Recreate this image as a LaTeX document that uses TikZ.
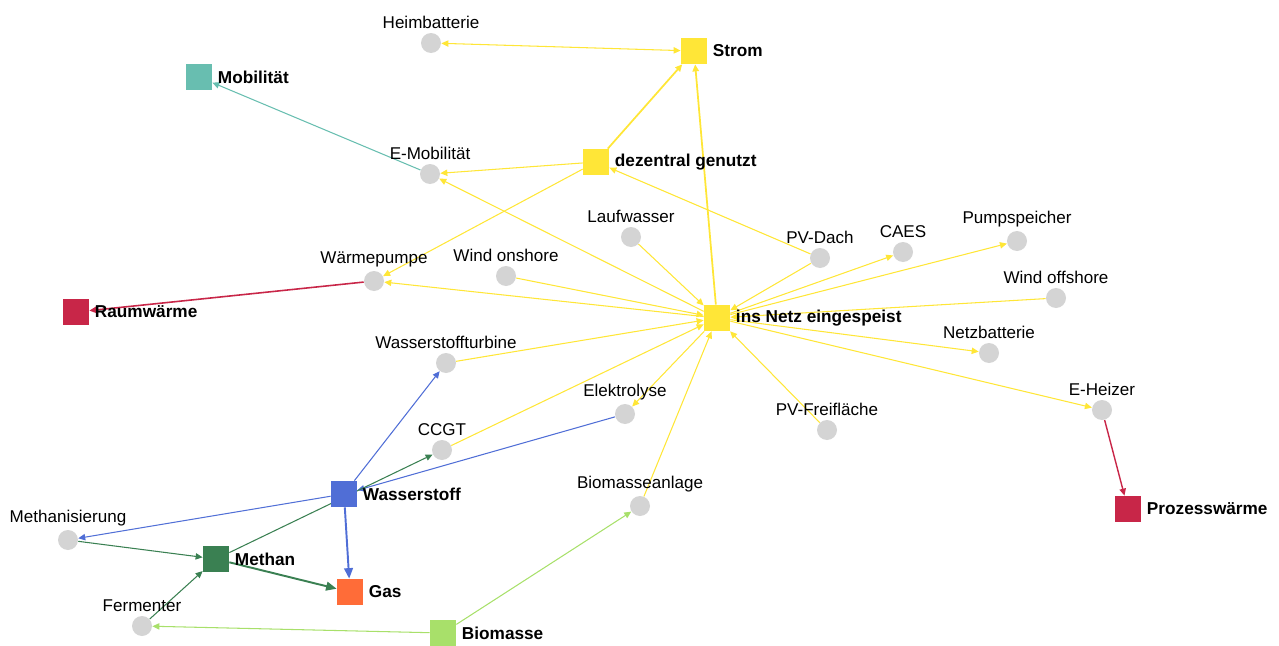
\documentclass[tikz,border=0pt]{standalone}
\usepackage{fontspec}
\setmainfont{Liberation Sans}
\usetikzlibrary{arrows.meta}

\definecolor{ygelb}{RGB}{255,230,55}
\definecolor{tuerkis}{RGB}{104,190,176}
\definecolor{karmin}{RGB}{200,38,72}
\definecolor{h2blau}{RGB}{80,110,214}
\definecolor{ch4gruen}{RGB}{58,128,82}
\definecolor{gasrot}{RGB}{255,108,56}
\definecolor{biogruen}{RGB}{168,224,106}
\definecolor{punkt}{RGB}{212,212,212}

\pgfdeclarelayer{kanten}
\pgfsetlayers{kanten,main}

\begin{document}
\begin{tikzpicture}[x=0.02cm,y=-0.02cm,
    sector/.style={rectangle,minimum size=0.52cm,inner sep=0pt},
    tech/.style={circle,fill=punkt,minimum size=0.4cm,inner sep=0pt},
    techName/.style={above,font=\fontsize{9.7pt}{12pt}\selectfont,inner sep=2pt},
    sectorName/.style={right,font=\fontsize{9.8pt}{12pt}\selectfont\bfseries,inner sep=3pt},
    flow/.style={line width=0.6pt,-{Triangle[length=4pt,width=3.6pt]}},
    mainflow/.style={line width=1.1pt,-{Triangle[length=6pt,width=5pt]}}
    ]
  \useasboundingbox (0,0) rectangle (1279,646);

  % Sektoren
  \node(strom) [sector,fill=ygelb] at (694,51) {};
  \node(stromName) [sectorName] at (strom.east) {Strom};
  \node(mobil) [sector,fill=tuerkis] at (199,77) {};
  \node(mobilName) [sectorName] at (mobil.east) {Mobilität};
  \node(dezentral) [sector,fill=ygelb] at (596,162) {};
  \node(dezentralName) [sectorName] at (dezentral.east) {dezentral genutzt};
  \node(raum) [sector,fill=karmin] at (76,312) {};
  \node(raumName) [sectorName] at (raum.east) {Raumwärme};
  \node(netz) [sector,fill=ygelb] at (717,318) {};
  \node(netzName) [sectorName] at (netz.east) {ins Netz eingespeist};
  \node(wasserstoff) [sector,fill=h2blau] at (344,494) {};
  \node(wasserstoffName) [sectorName] at (wasserstoff.east) {Wasserstoff};
  \node(prozess) [sector,fill=karmin] at (1128,509) {};
  \node(prozessName) [sectorName] at (prozess.east) {Prozesswärme};
  \node(methan) [sector,fill=ch4gruen] at (216,559) {};
  \node(methanName) [sectorName] at (methan.east) {Methan};
  \node(gas) [sector,fill=gasrot] at (350,592) {};
  \node(gasName) [sectorName] at (gas.east) {Gas};
  \node(biomasse) [sector,fill=biogruen] at (443,633) {};
  \node(biomasseName) [sectorName] at (biomasse.east) {Biomasse};

  % Technologien
  \node(heim) [tech] at (431,43) {};
  \node(heimName) [techName] at (heim.north) {Heimbatterie};
  \node(emob) [tech] at (430,174) {};
  \node(emobName) [techName] at (emob.north) {E-Mobilität};
  \node(lauf) [tech] at (631,237) {};
  \node(laufName) [techName] at (lauf.north) {Laufwasser};
  \node(pvdach) [tech] at (820,258) {};
  \node(pvdachName) [techName] at (pvdach.north) {PV-Dach};
  \node(caes) [tech] at (903,252) {};
  \node(caesName) [techName] at (caes.north) {CAES};
  \node(pump) [tech] at (1017,241) {};
  \node(pumpName) [techName] at (pump.north) {Pumpspeicher};
  \node(wp) [tech] at (374,281) {};
  \node(wpName) [techName] at (wp.north) {Wärmepumpe};
  \node(won) [tech] at (506,276) {};
  \node(wonName) [techName] at (won.north) {Wind onshore};
  \node(woff) [tech] at (1056,298) {};
  \node(woffName) [techName] at (woff.north) {Wind offshore};
  \node(nbat) [tech] at (989,353) {};
  \node(nbatName) [techName] at (nbat.north) {Netzbatterie};
  \node(hturb) [tech] at (446,363) {};
  \node(hturbName) [techName] at (hturb.north) {Wasserstoffturbine};
  \node(elyse) [tech] at (625,414) {};
  \node(elyseName) [techName] at (elyse.north) {Elektrolyse};
  \node(eheiz) [tech] at (1102,410) {};
  \node(eheizName) [techName] at (eheiz.north) {E-Heizer};
  \node(pvff) [tech] at (827,430) {};
  \node(pvffName) [techName] at (pvff.north) {PV-Freifläche};
  \node(ccgt) [tech] at (442,450) {};
  \node(ccgtName) [techName] at (ccgt.north) {CCGT};
  \node(bmanl) [tech] at (640,506) {};
  \node(bmanlName) [techName] at (bmanl.north) {Biomasseanlage};
  \node(methanis) [tech] at (68,540) {};
  \node(methanisName) [techName] at (methanis.north) {Methanisierung};
  \node(ferm) [tech] at (142,626) {};
  \node(fermName) [techName] at (ferm.north) {Fermenter};

  \begin{pgfonlayer}{kanten}
  % Strom
  \draw[flow,ygelb,{Triangle[length=4pt,width=3.6pt]}-{Triangle[length=4pt,width=3.6pt]}] (heim) -- (strom);
  \draw[flow,ygelb,line width=1pt] (dezentral) -- (strom);
  \draw[flow,ygelb,line width=1pt] (netz) -- (strom);
  \draw[flow,ygelb] (dezentral) -- (emob);
  \draw[flow,ygelb] (netz) -- (emob);
  \draw[flow,ygelb] (dezentral) -- (wp);
  \draw[flow,ygelb] (netz) -- (wp);
  \draw[flow,ygelb] (pvdach) -- (dezentral);
  \draw[flow,ygelb] (pvdach) -- (netz);
  \draw[flow,ygelb] (lauf) -- (netz);
  \draw[flow,ygelb] (won) -- (netz);
  \draw[flow,ygelb] (woff) -- (netz);
  \draw[flow,ygelb] (pvff) -- (netz);
  \draw[flow,ygelb] (bmanl) -- (netz);
  \draw[flow,ygelb] (ccgt) -- (netz);
  \draw[flow,ygelb] (hturb) -- (netz);
  \draw[flow,ygelb] (netz) -- (caes);
  \draw[flow,ygelb] (netz) -- (pump);
  \draw[flow,ygelb] (netz) -- (nbat);
  \draw[flow,ygelb] (netz) -- (eheiz);
  \draw[flow,ygelb] (netz) -- (elyse);

  % Endnutzung
  \draw[flow,tuerkis] (emob) -- (mobil);
  \draw[flow,karmin,line width=0.9pt] (wp) -- (raum);
  \draw[flow,karmin,line width=0.8pt] (eheiz) -- (prozess);

  % Wasserstoff und Methan
  \draw[flow,h2blau] (elyse) -- (wasserstoff);
  \draw[flow,h2blau] (wasserstoff) -- (hturb);
  \draw[flow,h2blau] (wasserstoff) -- (methanis);
  \draw[mainflow,h2blau] (wasserstoff) -- (gas);
  \draw[flow,ch4gruen] (methan) -- (ccgt);
  \draw[flow,ch4gruen] (methanis) -- (methan);
  \draw[flow,ch4gruen] (ferm) -- (methan);
  \draw[mainflow,ch4gruen] (methan) -- (gas);
  \draw[flow,biogruen] (biomasse) -- (ferm);
  \draw[flow,biogruen] (biomasse) -- (bmanl);
  \end{pgfonlayer}

  \end{tikzpicture}
\end{document}
